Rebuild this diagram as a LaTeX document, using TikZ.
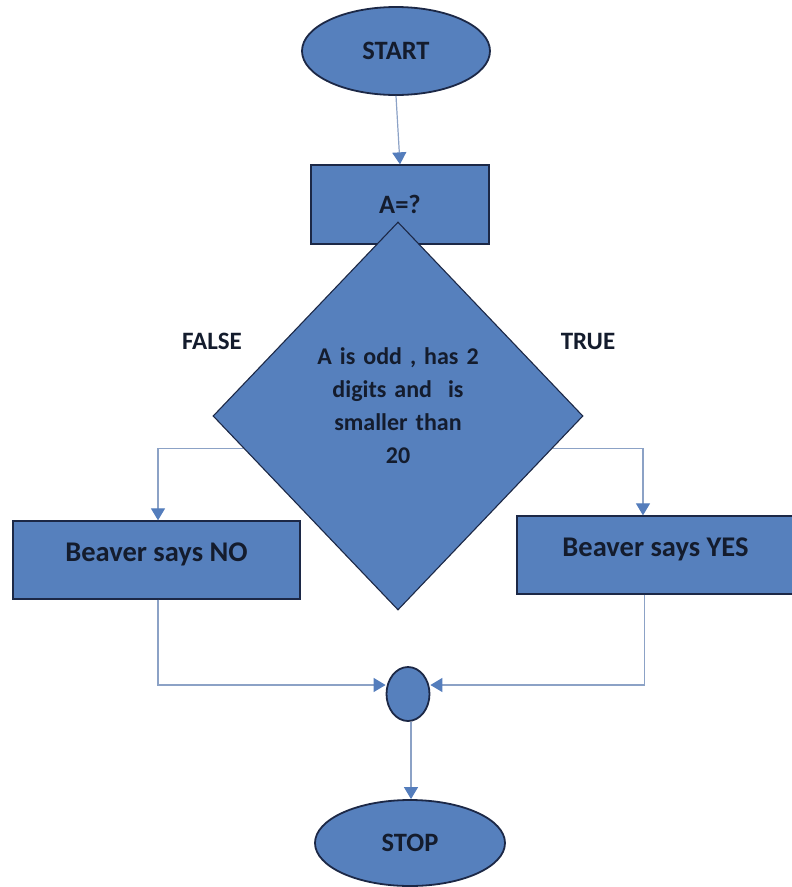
\documentclass[tikz,border=0pt]{standalone}
\usepackage{fontspec}
\setmainfont{Carlito}
\usetikzlibrary{shapes.geometric,arrows.meta,calc}
\definecolor{boxfill}{RGB}{86,128,189}
\definecolor{boxline}{RGB}{28,40,70}
\definecolor{txt}{RGB}{20,28,45}
\definecolor{conn}{RGB}{140,162,198}
\definecolor{tipc}{RGB}{84,125,188}
\tikzset{
  shapebase/.style={fill=boxfill, draw=boxline, line width=1.3pt, text=txt, font=\bfseries\fontsize{26.5}{30}\selectfont, inner sep=0pt},
  termbox/.style={shapebase, ellipse, line width=1.8pt},
  procbox/.style={shapebase, rectangle},
  beaverbox/.style={procbox, font=\bfseries\fontsize{28.5}{32}\selectfont, text depth=16pt},
  decbox/.style={shapebase, diamond, line width=1.1pt, font=\bfseries\fontsize{24}{33}\selectfont, align=center, text width=200pt, text depth=120pt},
  lbl/.style={text=txt, font=\bfseries\fontsize{25}{30}\selectfont, inner sep=0pt},
  conline/.style={draw=conn, line width=1.2pt, -{Triangle[width=14pt,length=12pt,fill=tipc,color=tipc]}},
}
\begin{document}
\begin{tikzpicture}[x=1pt,y=-1pt]
\useasboundingbox (0,0) rectangle (792,887);
% nodes
\node[termbox, minimum width=188pt, minimum height=88pt] (start) at (396,51) {START};
\node[procbox, minimum width=178pt, minimum height=79pt] (aq) at (400,204.5) {A=?};
\node[decbox, minimum width=370pt, minimum height=388pt] (d) at (398,416) {A is odd , has 2\\digits and~ is\\smaller than\\20};
\node[lbl] (false) at (212,341) {FALSE};
\node[lbl] (true) at (588,341) {TRUE};
\node[beaverbox, minimum width=287pt, minimum height=78pt] (no) at (156.5,560) {Beaver says NO};
\node[beaverbox, minimum width=277pt, minimum height=78pt] (yes) at (655.5,555) {Beaver says YES};
\node[shapebase, ellipse, line width=1.8pt, minimum width=43pt, minimum height=54pt] (m) at (408,694) {};
\node[termbox, minimum width=190pt, minimum height=86pt] (stop) at (410,843) {STOP};
% connector anchor points
\coordinate (dl) at ($(d.west)!0.165!(d.south)$);
\coordinate (dr) at ($(d.east)!0.165!(d.south)$);
\coordinate (yesx) at ($(yes.north west)!0.455!(yes.north east)$);
\coordinate (yesb) at ($(yes.south west)!0.46!(yes.south east)$);
% connectors
\draw[conline] (start.south) -- (aq.north);
\draw[conline] (dl) -| ($(no.north)+(1.5,0)$);
\draw[conline] (dr) -| (yesx);
\draw[conline] ($(no.south)+(1.5,0)$) |- ($(m.west)+(0,-9)$);
\draw[conline] (yesb) |- ($(m.east)+(0,-9)$);
\draw[conline] ($(m.south)+(3,0)$) -- ($(stop.north)+(1,0)$);
\end{tikzpicture}
\end{document}
